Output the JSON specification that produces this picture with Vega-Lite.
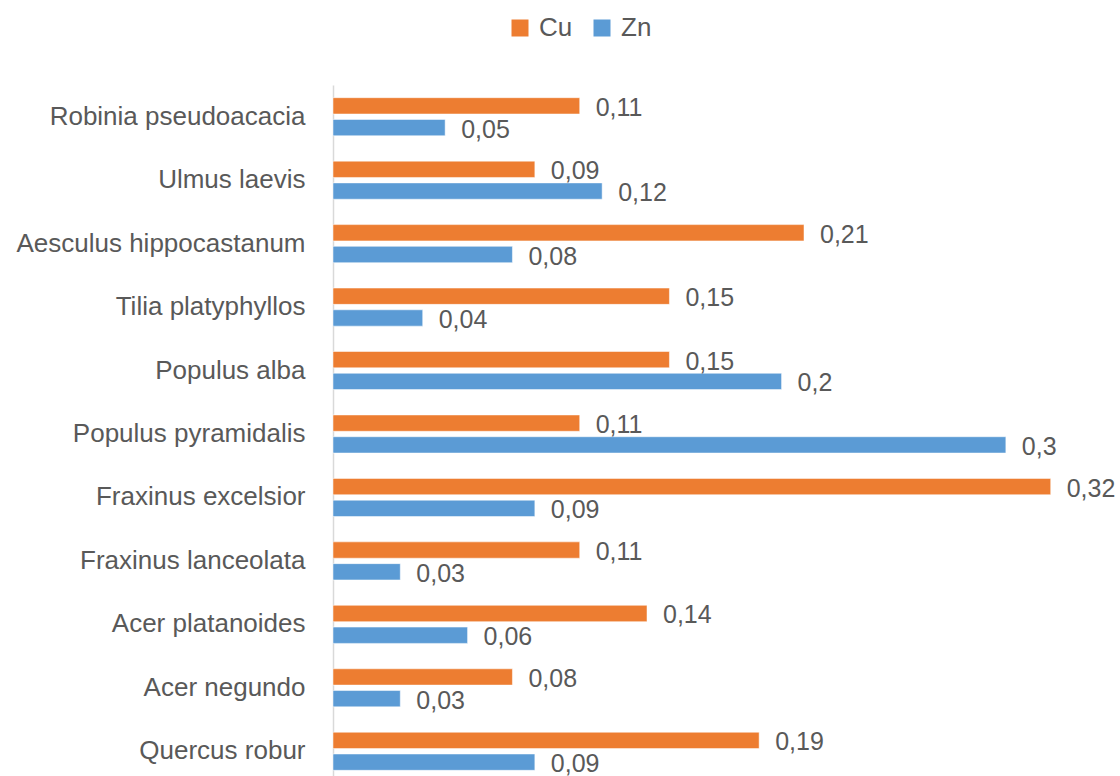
{
  "$schema": "https://vega.github.io/schema/vega-lite/v6.json",
  "autosize": {"type": "none"},
  "padding": {"left": 333, "top": 85, "right": 0, "bottom": 0},
  "width": 785,
  "height": 698,
  "background": "white",
  "config": {
    "locale": {"number": {"decimal": ",", "thousands": ".", "grouping": [3], "currency": ["", " €"]}},
    "view": {"stroke": null},
    "font": "Liberation Sans"
  },
  "data": {
    "values": [
      {"species": "Robinia pseudoacacia", "metal": "Cu", "value": 0.11},
      {"species": "Robinia pseudoacacia", "metal": "Zn", "value": 0.05},
      {"species": "Ulmus laevis", "metal": "Cu", "value": 0.09},
      {"species": "Ulmus laevis", "metal": "Zn", "value": 0.12},
      {"species": "Aesculus hippocastanum", "metal": "Cu", "value": 0.21},
      {"species": "Aesculus hippocastanum", "metal": "Zn", "value": 0.08},
      {"species": "Tilia platyphyllos", "metal": "Cu", "value": 0.15},
      {"species": "Tilia platyphyllos", "metal": "Zn", "value": 0.04},
      {"species": "Populus alba", "metal": "Cu", "value": 0.15},
      {"species": "Populus alba", "metal": "Zn", "value": 0.2},
      {"species": "Populus pyramidalis", "metal": "Cu", "value": 0.11},
      {"species": "Populus pyramidalis", "metal": "Zn", "value": 0.3},
      {"species": "Fraxinus excelsior", "metal": "Cu", "value": 0.32},
      {"species": "Fraxinus excelsior", "metal": "Zn", "value": 0.09},
      {"species": "Fraxinus lanceolata", "metal": "Cu", "value": 0.11},
      {"species": "Fraxinus lanceolata", "metal": "Zn", "value": 0.03},
      {"species": "Acer platanoides", "metal": "Cu", "value": 0.14},
      {"species": "Acer platanoides", "metal": "Zn", "value": 0.06},
      {"species": "Acer negundo", "metal": "Cu", "value": 0.08},
      {"species": "Acer negundo", "metal": "Zn", "value": 0.03},
      {"species": "Quercus robur", "metal": "Cu", "value": 0.19},
      {"species": "Quercus robur", "metal": "Zn", "value": 0.09}
    ]
  },
  "encoding": {
    "y": {
      "field": "species",
      "type": "nominal",
      "sort": null,
      "scale": {"paddingInner": 0.4, "paddingOuter": 0.2},
      "axis": {
        "title": null,
        "ticks": false,
        "domainColor": "#d9d9d9",
        "domainWidth": 1.5,
        "labelFontSize": 26,
        "labelColor": "#595959",
        "labelPadding": 28,
        "labelLimit": 400,
        "labelFont": "Liberation Sans"
      }
    },
    "yOffset": {
      "field": "metal",
      "type": "nominal",
      "sort": ["Cu", "Zn"],
      "scale": {"paddingInner": 0.25}
    },
    "x": {
      "field": "value",
      "type": "quantitative",
      "scale": {"domain": [0, 0.35], "nice": false},
      "axis": null
    }
  },
  "layer": [
    {
      "mark": {"type": "bar", "stroke": "white", "strokeWidth": 0.5},
      "encoding": {
        "color": {
          "field": "metal",
          "type": "nominal",
          "sort": ["Cu", "Zn"],
          "scale": {"domain": ["Cu", "Zn"], "range": ["#ED7D31", "#5B9BD5"]},
          "legend": {
            "title": null,
            "orient": "none",
            "direction": "horizontal",
            "legendX": 174,
            "legendY": -70,
            "symbolType": "square",
            "symbolSize": 289,
            "symbolStrokeWidth": 0,
            "labelFontSize": 26,
            "labelColor": "#595959",
            "labelFont": "Liberation Sans",
            "columnPadding": 16,
            "labelOffset": 6
          }
        }
      }
    },
    {
      "mark": {
        "type": "text",
        "align": "left",
        "baseline": "middle",
        "dx": 16,
        "dy": 2,
        "fontSize": 25,
        "color": "#595959",
        "font": "Liberation Sans"
      },
      "encoding": {
        "text": {"field": "value", "type": "quantitative", "format": ".2~f"}
      }
    }
  ]
}
